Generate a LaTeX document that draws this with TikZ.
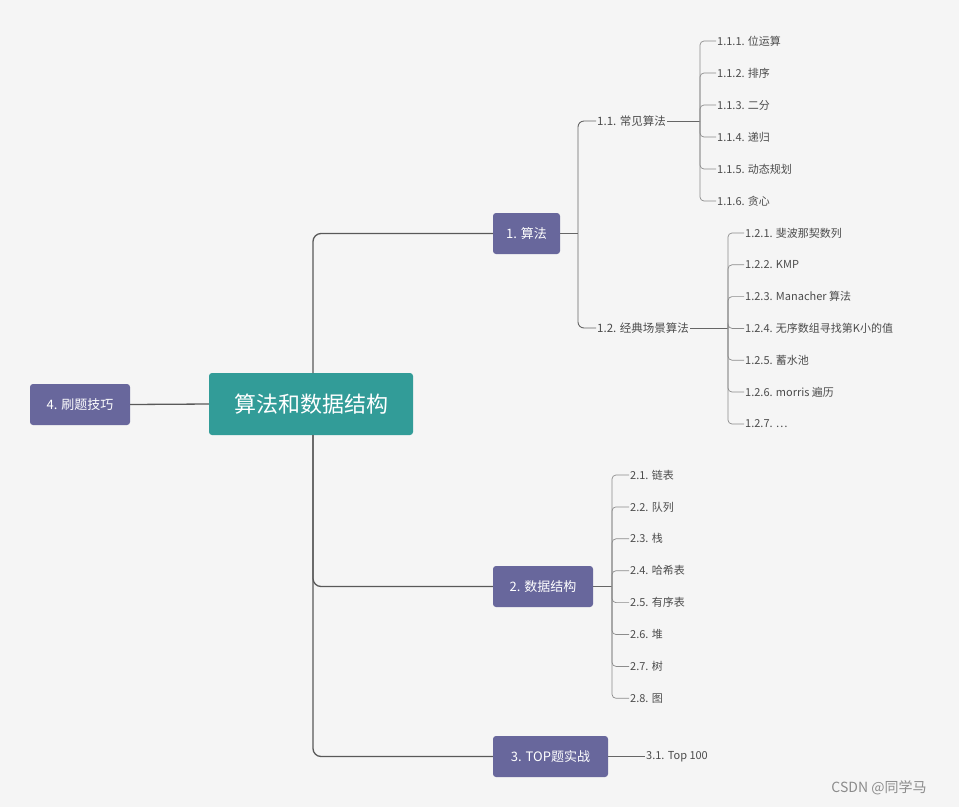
\documentclass[tikz,border=0pt]{standalone}
\usepackage{fontspec}
\setmainfont{Noto Sans CJK SC}
\begin{document}
\begin{tikzpicture}[x=1pt,y=-1pt,
  bg/.style={fill=black!4},
  main/.style={fill={rgb,255:red,50;green,156;blue,152}, text=white, rounded corners=3pt, minimum width=204pt, minimum height=62pt, font=\fontsize{22}{24}\selectfont},
  lvl/.style={fill={rgb,255:red,104;green,103;blue,156}, text=white, rounded corners=3pt, minimum height=41pt, inner xsep=10pt, font=\fontsize{13}{15}\selectfont},
  sub/.style={text=black!70, font=\fontsize{11.5}{13}\selectfont, anchor=west, inner sep=1pt},
  leaf/.style={text=black!70, font=\fontsize{11}{13}\selectfont, anchor=west, inner sep=1pt},
  trunk/.style={draw=black!65, line width=1.3pt, rounded corners=8pt},
  br/.style={draw=black!60, line width=0.9pt, rounded corners=6pt},
  lf/.style={draw=black!45, line width=0.7pt, rounded corners=4pt}]
\useasboundingbox[bg] (0,0) rectangle (959,807);
\node[main] (c) at (311,404) {算法和数据结构};
\node[lvl, minimum width=67pt] (a1) at (526.5,233.5) {1. 算法};
\node[lvl, minimum width=100pt] (a2) at (543,586.5) {2. 数据结构};
\node[lvl, minimum width=115pt] (a3) at (550.5,756.5) {3. TOP题实战};
\node[lvl, minimum width=100pt] (a4) at (80,404.5) {4. 刷题技巧};
\coordinate (ct) at (313,373);
\coordinate (cb) at (313,435);
\draw[trunk] (ct) |- (a1.west);
\draw[trunk] (cb) |- (a2.west);
\draw[trunk] (cb) |- (a3.west);
\draw[trunk] (a4.east) -- (c.west);
\node[sub] (b1) at (596,121) {1.1. 常见算法};
\node[sub] (b2) at (596,328) {1.2. 经典场景算法};
\coordinate (j1) at (578,233.5);
\draw[br] (a1.east) -- (j1);
\draw[br] (j1) |- (b1.west);
\draw[br] (j1) |- (b2.west);
\coordinate (j11) at (700,121);
\draw[br] (b1.east) -- (j11);
\foreach \t [count=\i] in {位运算,排序,二分,递归,动态规划,贪心}{
  \node[leaf] (l1\i) at (716,{41+32*(\i-1)}) {1.1.\i. \t};
  \draw[lf] (j11) |- (l1\i.west);
}
\coordinate (j12) at (728,328);
\draw[br] (b2.east) -- (j12);
\foreach \t [count=\i] in {斐波那契数列,KMP,Manacher 算法,无序数组寻找第K小的值,蓄水池,morris 遍历}{
  \node[leaf] (l2\i) at (744,{233+31.8*(\i-1)}) {1.2.\i. \t};
  \draw[lf] (j12) |- (l2\i.west);
}
\node[leaf] (l27) at (744,424) {1.2.7. \ldots};
\draw[lf] (j12) |- (l27.west);
\coordinate (j2) at (612,586.5);
\draw[br] (a2.east) -- (j2);
\foreach \t [count=\i] in {链表,队列,栈,哈希表,有序表,堆,树,图}{
  \node[leaf] (d\i) at (629,{475+31.9*(\i-1)}) {2.\i. \t};
  \draw[lf] (j2) |- (d\i.west);
}
\node[leaf] (t1) at (645,756.5) {3.1. Top 100};
\draw[br] (a3.east) -- (t1.west);
\node[text=black!45, font=\fontsize{14}{16}\selectfont] (wm) at (879,788) {CSDN @同学马};
\end{tikzpicture}
\end{document}
